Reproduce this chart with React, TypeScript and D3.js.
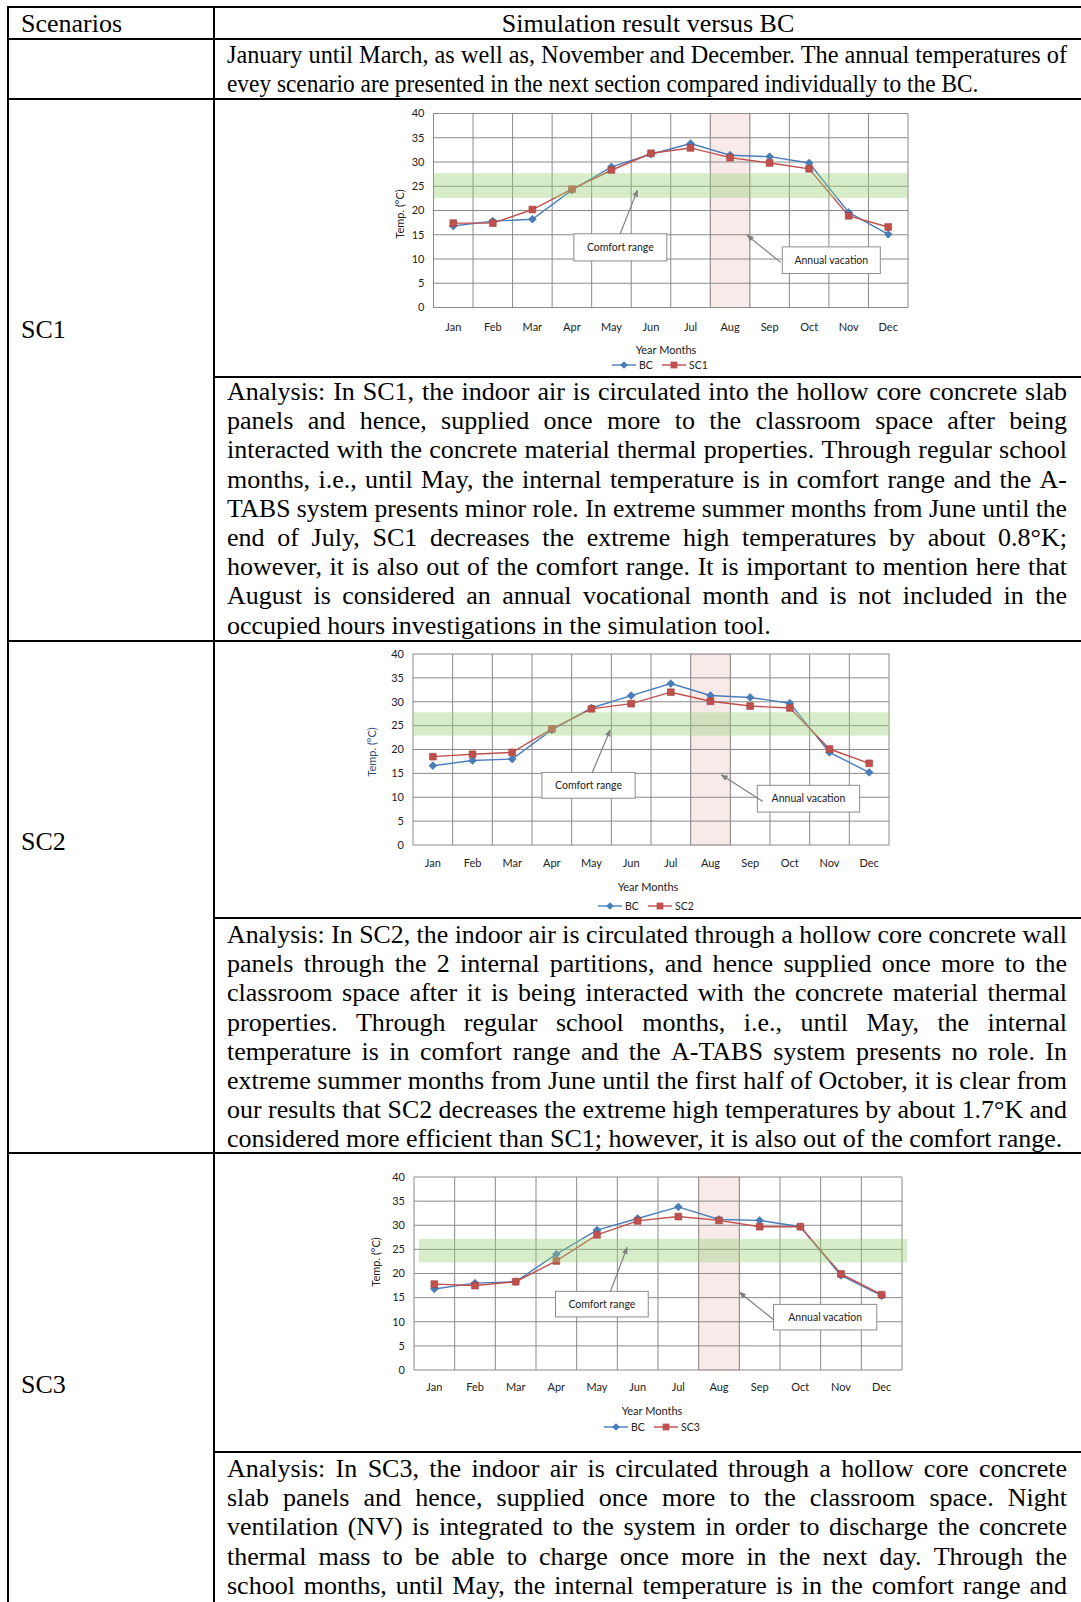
import React from 'react';
import * as d3 from 'd3';

// ---------- DATA ----------
const months = ['Jan', 'Feb', 'Mar', 'Apr', 'May', 'Jun', 'Jul', 'Aug', 'Sep', 'Oct', 'Nov', 'Dec'];
const yTicks = [0, 5, 10, 15, 20, 25, 30, 35, 40];
const vacationMonth = 'Aug';

const bcSC1 = [16.8, 17.8, 18.2, 24.2, 29.0, 31.6, 33.8, 31.4, 31.1, 29.8, 19.6, 15.1];
const sc1Values = [17.4, 17.4, 20.2, 24.4, 28.3, 31.8, 32.9, 30.9, 29.8, 28.6, 18.9, 16.6];
const bcSC2 = [16.6, 17.7, 18.0, 24.1, 28.7, 31.3, 33.8, 31.3, 30.9, 29.7, 19.4, 15.2];
const sc2Values = [18.5, 19.0, 19.4, 24.3, 28.5, 29.6, 32.0, 30.1, 29.1, 28.7, 20.1, 17.1];
const bcSC3 = [16.8, 18.0, 18.3, 24.0, 29.0, 31.4, 33.8, 31.2, 31.0, 29.7, 19.6, 15.4];
const sc3Values = [17.8, 17.5, 18.3, 22.6, 28.0, 30.9, 31.8, 31.0, 29.7, 29.7, 19.9, 15.6];

const comfortSC1 = [22.6, 27.7];
const comfortSC2 = [22.9, 27.8];
const comfortSC3 = [22.3, 27.2];

const headerLeft = 'Scenarios';
const headerRight = 'Simulation result versus BC';
const scenarioNames = ['SC1', 'SC2', 'SC3'];

const introLines = [
  'January until March, as well as, November and December. The annual temperatures of',
  'evey scenario are presented in the next section compared individually to the BC.',
];
const sc1Lines = [
  'Analysis: In SC1, the indoor air is circulated into the hollow core concrete slab',
  'panels and hence, supplied once more to the classroom space after being',
  'interacted with the concrete material thermal properties. Through regular school',
  'months, i.e., until May, the internal temperature is in comfort range and the A-',
  'TABS system presents minor role. In extreme summer months from June until the',
  'end of July, SC1 decreases the extreme high temperatures by about 0.8°K;',
  'however, it is also out of the comfort range. It is important to mention here that',
  'August is considered an annual vocational month and is not included in the',
  'occupied hours investigations in the simulation tool.',
];
const sc2Lines = [
  'Analysis: In SC2, the indoor air is circulated through a hollow core concrete wall',
  'panels through the 2 internal partitions, and hence supplied once more to the',
  'classroom space after it is being interacted with the concrete material thermal',
  'properties. Through regular school months, i.e., until May, the internal',
  'temperature is in comfort range and the A-TABS system presents no role. In',
  'extreme summer months from June until the first half of October, it is clear from',
  'our results that SC2 decreases the extreme high temperatures by about 1.7°K and',
  'considered more efficient than SC1; however, it is also out of the comfort range.',
];
const sc3Lines = [
  'Analysis: In SC3, the indoor air is circulated through a hollow core concrete',
  'slab panels and hence, supplied once more to the classroom space. Night',
  'ventilation (NV) is integrated to the system in order to discharge the concrete',
  'thermal mass to be able to charge once more in the next day. Through the',
  'school months, until May, the internal temperature is in the comfort range and',
];

// ---------- STYLE / LAYOUT ----------
const W = 1081;
const H = 1602;
const SERIF = '"Liberation Serif", "Times New Roman", serif';
const SANS = 'Lato, "Liberation Sans", sans-serif';
const FS = 26;
const LH = 29.2;
const TX0 = 227;
const TX1 = 1067;
const BC_COLOR = '#4a7ebb';
const SC_COLOR = '#c0504d';
const GRID = '#8a8a8a';

let _ctx: CanvasRenderingContext2D | null = null;
function measure(s: string, font: string) {
  if (!_ctx) {
    const c = document.createElement('canvas');
    _ctx = c.getContext('2d');
  }
  if (!_ctx) return s.length * 11;
  _ctx.font = font;
  return _ctx.measureText(s).width;
}

function Paragraph({ lines, y0, justifyLast = false, hScale = 1 }: any) {
  const font = `${FS}px "Liberation Serif"`;
  const target = TX1 - TX0;
  return (
    <g fontFamily={SERIF} fontSize={FS} fill="#000">
      {lines.map((ln: string, i: number) => {
        const y = y0 + i * LH;
        const isLast = i === lines.length - 1 && !justifyLast;
        const nat = measure(ln, font);
        if (hScale !== 1) {
          return (
            <text key={i} x={TX0} y={y} textLength={isLast ? nat * hScale : target} lengthAdjust="spacingAndGlyphs">{ln}</text>
          );
        }
        if (isLast) return <text key={i} x={TX0} y={y}>{ln}</text>;
        if (nat >= target) {
          return (
            <text key={i} x={TX0} y={y} textLength={target} lengthAdjust="spacingAndGlyphs">{ln}</text>
          );
        }
        const words = ln.split(' ');
        const ww = words.map((w) => measure(w, font));
        const gap = (target - d3.sum(ww)) / Math.max(1, words.length - 1);
        let cx = TX0;
        return (
          <g key={i}>
            {words.map((w, j) => {
              const xx = cx;
              cx += ww[j] + gap;
              return <text key={j} x={xx} y={y}>{w}</text>;
            })}
          </g>
        );
      })}
    </g>
  );
}

type Cfg = {
  px0: number; px1: number; py0: number; py1: number;
  tempX: number; tempY: number; tempColor: string;
  monthY: number; titleY: number; titleCx: number; legendY: number; legendCx: number;
  bandShift: number;
  comfortBox: number[]; comfortArrow: number[];
  vacBox: number[]; vacArrow: number[];
};

const cfg1: Cfg = {
  px0: 433.5, px1: 908, py0: 113.5, py1: 307.5,
  tempX: 400, tempY: 214, tempColor: '#222',
  monthY: 331, titleY: 354, titleCx: 666, legendY: 365, legendCx: 660,
  bandShift: 0,
  comfortBox: [3.55, 5.9, 15.2, 9.6], comfortArrow: [4.72, 15.2, 5.16, 24.2],
  vacBox: [8.82, 11.3, 12.5, 7.0], vacArrow: [8.78, 9.3, 7.93, 14.9],
};
const cfg2: Cfg = {
  px0: 413, px1: 889, py0: 654, py1: 845,
  tempX: 372, tempY: 752, tempColor: '#2f4f78',
  monthY: 867, titleY: 891, titleCx: 648, legendY: 906, legendCx: 646,
  bandShift: 0,
  comfortBox: [3.25, 5.6, 15.2, 9.8], comfortArrow: [4.52, 15.2, 4.97, 24.1],
  vacBox: [8.68, 11.26, 12.5, 6.9], vacArrow: [8.82, 9.1, 7.77, 14.7],
};
const cfg3: Cfg = {
  px0: 414, px1: 902, py0: 1177, py1: 1370,
  tempX: 376, tempY: 1262, tempColor: '#222',
  monthY: 1391, titleY: 1415, titleCx: 652, legendY: 1427, legendCx: 652,
  bandShift: 5,
  comfortBox: [3.48, 5.76, 16.3, 11.0], comfortArrow: [4.83, 16.3, 5.24, 25.4],
  vacBox: [8.84, 11.38, 13.6, 8.3], vacArrow: [8.86, 10.3, 8.0, 16.1],
};

function Chart({ cfg, bc, sc, scName, comfort, id }: any) {
  const c: Cfg = cfg;
  const x = d3.scaleBand<string>().domain(months).range([c.px0, c.px1]).padding(0);
  const xl = d3.scaleLinear().domain([0, months.length]).range([c.px0, c.px1]);
  const y = d3.scaleLinear().domain([0, 40]).range([c.py1, c.py0]);
  const cx = (i: number) => (x(months[i]) as number) + x.bandwidth() / 2;
  const line = d3.line<number>().x((_, i) => cx(i)).y((d) => y(d));
  const diamond = d3.symbol().type(d3.symbolSquare).size(30)();
  const square = d3.symbol().type(d3.symbolSquare).size(46)();
  const vx = x(vacationMonth) as number;

  const box = (b: number[], label: string) => {
    const bx0 = xl(b[0]), bx1 = xl(b[1]), by0 = y(b[2]), by1 = y(b[3]);
    return (
      <g>
        <rect x={bx0} y={by0} width={bx1 - bx0} height={by1 - by0} fill="#fff" stroke="#8c8c8c" strokeWidth={1} />
        <text x={(bx0 + bx1) / 2} y={(by0 + by1) / 2} dy="0.35em" textAnchor="middle" fontSize={10.5} fill="#222">{label}</text>
      </g>
    );
  };
  const arrow = (a: number[]) => (
    <line x1={xl(a[0])} y1={y(a[1])} x2={xl(a[2])} y2={y(a[3])} stroke="#808080" strokeWidth={1.2} markerEnd={`url(#arr-${id})`} />
  );

  const legendItems = [
    { name: 'BC', color: BC_COLOR, sym: diamond, rot: 45 },
    { name: scName, color: SC_COLOR, sym: square, rot: 0 },
  ];
  const lx0 = c.legendCx - 48;

  return (
    <g fontFamily={SANS}>
      <defs>
        <marker id={`arr-${id}`} viewBox="0 0 10 10" refX="9" refY="5" markerWidth="6" markerHeight="6" orient="auto">
          <path d="M0,1 L10,5 L0,9 z" fill="#808080" />
        </marker>
      </defs>
      <rect x={c.px0} y={c.py0} width={c.px1 - c.px0} height={c.py1 - c.py0} fill="#fff" />
      <rect x={vx} y={c.py0} width={x.bandwidth()} height={c.py1 - c.py0} fill="#e6b8b7" fillOpacity={0.3} stroke="#d49a9a" strokeOpacity={0.5} />
      {yTicks.map((t) => (
        <line key={'h' + t} x1={c.px0} x2={c.px1} y1={y(t)} y2={y(t)} stroke={GRID} strokeWidth={1} />
      ))}
      {d3.range(months.length + 1).map((i) => (
        <line key={'v' + i} x1={xl(i)} x2={xl(i)} y1={c.py0} y2={c.py1} stroke={GRID} strokeWidth={1} />
      ))}
      <path d={line(bc) || ''} fill="none" stroke={BC_COLOR} strokeWidth={1.4} />
      <path d={line(sc) || ''} fill="none" stroke={SC_COLOR} strokeWidth={1.4} />
      {bc.map((v: number, i: number) => (
        <path key={'b' + i} d={diamond || ''} transform={`translate(${cx(i)},${y(v)}) rotate(45)`} fill={BC_COLOR} stroke="#3a68a0" strokeWidth={0.6} />
      ))}
      {sc.map((v: number, i: number) => (
        <path key={'s' + i} d={square || ''} transform={`translate(${cx(i)},${y(v)})`} fill={SC_COLOR} stroke="#a33f3c" strokeWidth={0.6} />
      ))}
      <rect x={c.px0 + c.bandShift} y={y(comfort[1])} width={c.px1 - c.px0} height={y(comfort[0]) - y(comfort[1])} fill="#9bd27a" fillOpacity={0.4} />
      {box(c.comfortBox, 'Comfort range')}
      {arrow(c.comfortArrow)}
      {box(c.vacBox, 'Annual vacation')}
      {arrow(c.vacArrow)}
      {yTicks.map((t) => (
        <text key={'yt' + t} x={c.px0 - 9} y={y(t)} dy="0.35em" textAnchor="end" fontSize={11} fill="#222">{t}</text>
      ))}
      {months.map((m, i) => (
        <text key={m} x={cx(i)} y={c.monthY} textAnchor="middle" fontSize={11} fill="#222">{m}</text>
      ))}
      <text transform={`translate(${c.tempX},${c.tempY}) rotate(-90)`} textAnchor="middle" dy="0.35em" fontSize={11} fill={c.tempColor}>Temp. (°C)</text>
      <text x={c.titleCx} y={c.titleY} textAnchor="middle" fontSize={11} fill="#222">Year Months</text>
      {legendItems.map((it, k) => {
        const ox = lx0 + k * 50;
        return (
          <g key={it.name}>
            <line x1={ox} x2={ox + 24} y1={c.legendY} y2={c.legendY} stroke={it.color} strokeWidth={1.4} />
            <path d={it.sym || ''} transform={`translate(${ox + 12},${c.legendY}) rotate(${it.rot})`} fill={it.color} />
            <text x={ox + 27} y={c.legendY} dy="0.35em" fontSize={10.5} fill="#222">{it.name}</text>
          </g>
        );
      })}
    </g>
  );
}

// table rules
const COL0 = 8;
const COL1 = 214;
const rowsFull = [7, 39, 99, 641, 1153];
const rowsRight = [377, 918, 1452];

export default function App() {
  return (
    <svg width={W} height={H} style={{ position: 'absolute', left: 0, top: 0, background: '#fff' }} xmlns="http://www.w3.org/2000/svg">
      <rect x={0} y={0} width={W} height={H} fill="#fff" />
      <g stroke="#000" strokeWidth={2}>
        {rowsFull.map((r) => (
          <line key={'r' + r} x1={COL0 - 1} x2={W} y1={r} y2={r} />
        ))}
        {rowsRight.map((r) => (
          <line key={'rr' + r} x1={COL1} x2={W} y1={r} y2={r} />
        ))}
        <line x1={COL0} x2={COL0} y1={6} y2={H} />
        <line x1={COL1} x2={COL1} y1={6} y2={H} />
      </g>
      <g fontFamily={SERIF} fontSize={FS} fill="#000">
        <text x={21} y={32}>{headerLeft}</text>
        <text x={(COL1 + W) / 2 + 0.5} y={32} textAnchor="middle">{headerRight}</text>
        <text x={21} y={338}>{scenarioNames[0]}</text>
        <text x={21} y={850}>{scenarioNames[1]}</text>
        <text x={21} y={1393}>{scenarioNames[2]}</text>
      </g>
      <Paragraph lines={introLines} y0={63} hScale={0.898} />
      <Paragraph lines={sc1Lines} y0={400} />
      <Paragraph lines={sc2Lines} y0={943} />
      <Paragraph lines={sc3Lines} y0={1477} justifyLast={true} />
      <Chart cfg={cfg1} bc={bcSC1} sc={sc1Values} scName="SC1" comfort={comfortSC1} id="c1" />
      <Chart cfg={cfg2} bc={bcSC2} sc={sc2Values} scName="SC2" comfort={comfortSC2} id="c2" />
      <Chart cfg={cfg3} bc={bcSC3} sc={sc3Values} scName="SC3" comfort={comfortSC3} id="c3" />
    </svg>
  );
}
